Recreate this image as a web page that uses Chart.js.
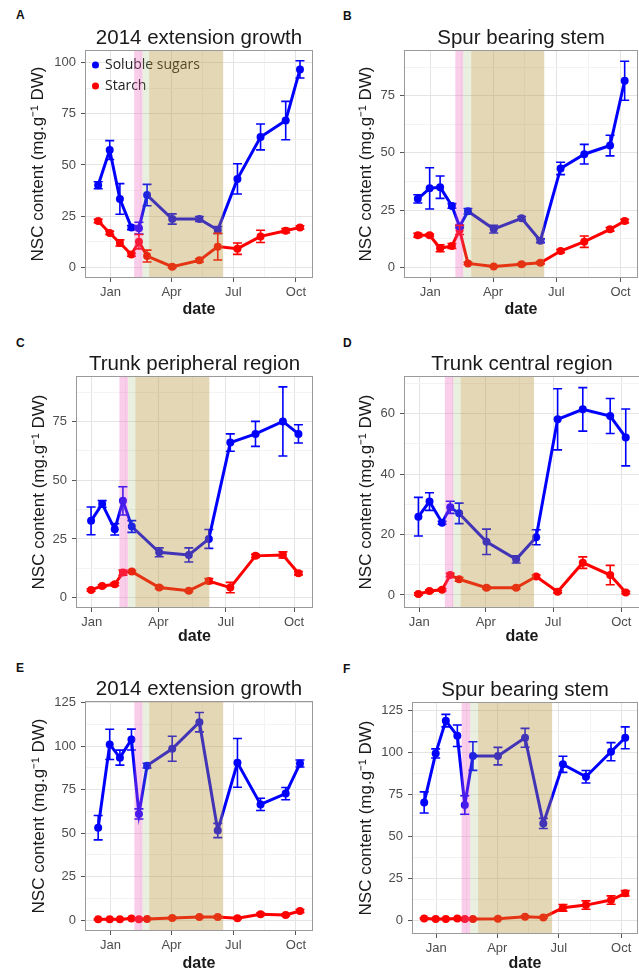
<!DOCTYPE html>
<html>
<head>
<meta charset="utf-8">
<script src="https://cdn.jsdelivr.net/npm/chart.js@4.4.1/dist/chart.umd.min.js"></script>
<style>
  html, body { margin: 0; padding: 0; background: #fff; }
  body { width: 639px; height: 971px; overflow: hidden; position: relative; }
  canvas { position: absolute; }
  .tag { position: absolute; font: bold 12px 'Liberation Sans', Arial, sans-serif; line-height: 12px; color: #111; }
</style>
</head>
<body>
<div class="tag" style="left:16px;top:9px">A</div>
<div class="tag" style="left:343px;top:10px">B</div>
<div class="tag" style="left:16px;top:337px">C</div>
<div class="tag" style="left:343px;top:337px">D</div>
<div class="tag" style="left:16px;top:662px">E</div>
<div class="tag" style="left:343px;top:663px">F</div>
<canvas id="cA"></canvas><canvas id="cB"></canvas>
<canvas id="cC"></canvas><canvas id="cD"></canvas>
<canvas id="cE"></canvas><canvas id="cF"></canvas>
<script>
// ---------- data (x = days since 1 Jan 2014) ----------
const dates = [-18, -1, 14, 31, 42, 54, 91, 131, 158, 187, 221, 258, 279];
const datesTrunk = [-1, 14, 31, 42, 54, 91, 131, 158, 187, 221, 258, 279];
const monthDays = [0, 90, 181, 273];
const monthNames = ['Jan', 'Apr', 'Jul', 'Oct'];

const sugarA    = [40.1, 57.3, 33.4, 19.4, 19.1, 35.3, 23.6, 23.6, 18.2, 43.2, 63.7, 71.7, 96.7];
const sugarErrA = [1.7, 4.6, 7.5, 1.0, 2.9, 5.2, 2.5, 1.2, 1.7, 7.4, 6.3, 9.4, 4.2];
const starchA    = [22.6, 16.8, 11.9, 6.2, 12.5, 5.5, 0.3, 3.4, 10.1, 9.1, 15.1, 17.9, 19.5];
const starchErrA = [0.8, 0.8, 1.5, 0.8, 3.5, 2.9, 0.5, 0.8, 6.5, 2.8, 3.0, 1.0, 0.8];

const sugarB    = [29.9, 34.5, 35.0, 26.8, 17.8, 24.5, 16.7, 21.4, 11.6, 43.2, 49.4, 53.2, 81.5];
const sugarErrB = [1.8, 9.0, 4.9, 1.0, 0.5, 1.2, 1.7, 0.8, 0.8, 2.7, 4.3, 4.5, 8.5];
const starchB    = [14.0, 14.0, 8.3, 9.3, 16.3, 1.7, 0.3, 1.3, 2.0, 7.1, 11.2, 16.6, 20.2];
const starchErrB = [0.8, 0.5, 1.5, 1.1, 2.0, 0.5, 0.3, 0.5, 0.5, 0.7, 2.5, 0.8, 0.8];

const sugarC    = [32.7, 39.9, 29.1, 41.2, 30.3, 19.3, 18.2, 25.0, 66.0, 69.7, 75.0, 69.7];
const sugarErrC = [5.9, 1.4, 2.4, 6.0, 2.5, 1.9, 3.0, 4.0, 3.7, 5.3, 14.7, 3.9];
const starchC    = [3.3, 5.0, 5.7, 10.7, 11.1, 4.3, 3.0, 7.1, 4.3, 17.8, 18.2, 10.4];
const starchErrC = [0.5, 0.5, 0.6, 1.1, 0.5, 0.5, 0.5, 1.0, 2.2, 0.7, 1.3, 0.7];

const sugarD    = [25.9, 30.9, 23.9, 29.0, 27.0, 17.6, 11.8, 19.1, 58.1, 61.4, 59.2, 52.1];
const sugarErrD = [6.4, 2.9, 0.5, 2.0, 3.4, 4.2, 1.2, 2.5, 10.1, 7.2, 5.8, 9.4];
const starchD    = [0.3, 1.3, 1.7, 6.6, 5.2, 2.4, 2.4, 6.1, 1.1, 10.7, 6.6, 0.8];
const starchErrD = [0.4, 0.4, 0.4, 0.6, 0.6, 0.4, 0.4, 0.5, 0.4, 1.9, 3.2, 0.4];

const sugarE    = [53.1, 101.0, 93.4, 103.8, 61.0, 88.8, 98.5, 113.8, 51.5, 90.4, 66.5, 72.7, 90.0];
const sugarErrE = [7.0, 8.7, 4.3, 6.0, 2.9, 1.4, 7.2, 5.6, 4.1, 14.0, 3.5, 3.5, 2.0];
const starchE    = [0.4, 0.4, 0.4, 0.8, 0.4, 0.6, 1.1, 1.7, 1.7, 1.0, 3.3, 2.9, 5.2];
const starchErrE = [0.3, 0.3, 0.3, 0.4, 0.3, 0.3, 0.4, 0.5, 0.5, 0.4, 0.7, 0.6, 0.8];

const sugarF    = [70.0, 99.2, 118.7, 109.7, 68.5, 97.6, 97.6, 108.5, 57.5, 92.7, 85.3, 100.2, 108.5];
const sugarErrF = [6.3, 2.7, 3.7, 6.4, 5.5, 8.5, 5.2, 5.6, 3.0, 4.8, 3.7, 5.4, 6.5];
const starchF    = [1.0, 0.6, 0.6, 1.0, 0.6, 0.6, 0.8, 2.0, 1.6, 7.3, 8.9, 11.9, 15.9];
const starchErrF = [0.4, 0.3, 0.3, 0.4, 0.3, 0.3, 0.3, 0.5, 0.5, 2.0, 2.5, 2.5, 1.6];

// shaded periods (day boundaries: pink start, pink end / green start, green end / tan start, tan end)
const shadeA = [35, 47.3, 57, 166];
const shadeB = [35.9, 47.2, 58.6, 163.5];
const shadeC = [37.3, 48.9, 58.7, 158.7];
const shadeD = [34.7, 46.2, 56, 155.1];
const shadeE = [35.3, 47.4, 57.1, 166];
const shadeF = [37.3, 50, 61.6, 171];

const yTicks100 = [0, 25, 50, 75, 100];
const yTicks75 = [0, 25, 50, 75];
const yTicks60 = [0, 20, 40, 60];
const yTicks125 = [0, 25, 50, 75, 100, 125];

const titles = ['2014 extension growth', 'Spur bearing stem', 'Trunk peripheral region',
                'Trunk central region', '2014 extension growth', 'Spur bearing stem'];
const seriesNames = ['Soluble sugars', 'Starch'];
const yLabel = 'NSC content (mg.g\u207B\u00B9 DW)';
const xLabel = 'date';

// ---------- styling / layout ----------
const FONT = "'Liberation Sans', Arial, Helvetica, sans-serif";
const BLUE = '#0000ff', RED = '#ff0000';
const SHADE_COLORS = ['rgba(238,88,188,0.30)', 'rgba(150,180,95,0.20)', 'rgba(181,144,52,0.36)'];
const W_LEFT = 60, H_TOP = 40, H_BOTTOM = 45;

function withMinor(major, min, max) {
  const n = major.length;
  const ext = [major[0] - (major[1] - major[0]), ...major, major[n - 1] + (major[n - 1] - major[n - 2])];
  const out = [];
  for (let i = 0; i < ext.length; i++) {
    out.push(ext[i]);
    if (i < ext.length - 1) out.push((ext[i] + ext[i + 1]) / 2);
  }
  return out.filter(v => v >= min && v <= max);
}

function makeScale(axis, major, labels, min, max, title, titleFont, titlePad, tickPad) {
  const list = withMinor(major, min, max);
  const isMajor = v => major.indexOf(v) >= 0;
  return {
    type: 'linear', min, max,
    afterBuildTicks: s => { s.ticks = list.map(v => ({ value: v })); },
    afterFit: s => { if (axis === 'x') s.height = H_BOTTOM; else s.width = W_LEFT; },
    ticks: {
      autoSkip: false, maxRotation: 0, minRotation: 0, padding: tickPad,
      color: '#4d4d4d', font: { family: FONT, size: 13 },
      callback: v => { const i = major.indexOf(v); return i >= 0 ? labels[i] : ''; }
    },
    grid: {
      color: c => (c.tick && isMajor(c.tick.value)) ? '#e4e4e4' : '#f3f3f3',
      tickColor: c => (c.tick && isMajor(c.tick.value)) ? '#555555' : 'rgba(0,0,0,0)',
      tickLength: 5, drawTicks: true, lineWidth: 1
    },
    border: { display: false },
    title: { display: true, text: title, color: '#1a1a1a', font: titleFont, padding: titlePad }
  };
}

const decor = {
  id: 'decor',
  beforeDraw(chart) {
    // keep an in-panel legend inside the plotting area
    const lg = chart.legend;
    if (lg && lg.options.display && lg.options.position === 'chartArea') {
      const a = chart.chartArea;
      lg.left = a.left; lg.top = a.top; lg.right = a.right; lg.bottom = a.bottom;
      lg.width = a.right - a.left; lg.height = a.bottom - a.top;
    }
  },
  afterDatasetsDraw(chart, args, opts) {
    const { ctx, chartArea: a, scales: { x, y } } = chart;
    ctx.save();
    chart.data.datasets.forEach(ds => {
      ctx.strokeStyle = ds.borderColor;
      ctx.lineWidth = 1.6;
      ds.data.forEach((p, i) => {
        const e = ds.err[i];
        const px = x.getPixelForValue(p.x);
        const y1 = y.getPixelForValue(p.y - e), y2 = y.getPixelForValue(p.y + e);
        ctx.beginPath();
        ctx.moveTo(px, y1); ctx.lineTo(px, y2);
        ctx.moveTo(px - 4.5, y1); ctx.lineTo(px + 4.5, y1);
        ctx.moveTo(px - 4.5, y2); ctx.lineTo(px + 4.5, y2);
        ctx.stroke();
      });
    });
    const s = opts.shade;
    for (let k = 0; k < 3; k++) {
      const x0 = x.getPixelForValue(s[k]), x1 = x.getPixelForValue(s[k + 1]);
      ctx.fillStyle = SHADE_COLORS[k];
      ctx.fillRect(x0, a.top, x1 - x0, a.bottom - a.top);
    }
    ctx.strokeStyle = '#9a9a9a';
    ctx.lineWidth = 1;
    ctx.strokeRect(Math.round(a.left) - 0.5, Math.round(a.top) - 0.5,
                   Math.round(a.right - a.left) + 1, Math.round(a.bottom - a.top) + 1);
    ctx.restore();
  }
};

function series(xs, vals, errs, name, color) {
  return {
    label: name,
    data: xs.map((d, i) => ({ x: d, y: vals[i] })),
    err: errs,
    borderColor: color, backgroundColor: color,
    pointBackgroundColor: color, pointBorderColor: color,
    pointBorderWidth: 0, pointRadius: 4, pointStyle: 'circle',
    borderWidth: 3, tension: 0, clip: false
  };
}

// box = [left, top, right, bottom] of the plot panel in page pixels
const panels = [
  { id: 'cA', box: [86, 51, 315, 277], xs: dates, s: sugarA, se: sugarErrA, t: starchA, te: starchErrA,
    shade: shadeA, xr: [-35.9, 296.7], yr: [-4.74, 105.7], yt: yTicks100, title: titles[0], yPad: 2.1, xPad: 2.4, legend: true },
  { id: 'cB', box: [405, 51, 640, 277], xs: dates, s: sugarB, se: sugarErrB, t: starchB, te: starchErrB,
    shade: shadeB, xr: [-36.4, 296.7], yr: [-4.24, 94.5], yt: yTicks75, title: titles[1], yPad: 11.1, xPad: 2.9 },
  { id: 'cC', box: [77, 377, 315, 607], xs: datesTrunk, s: sugarC, se: sugarErrC, t: starchC, te: starchErrC,
    shade: shadeC, xr: [-20, 297.3], yr: [-3.96, 93.9], yt: yTicks75, title: titles[2], yPad: 11.7, xPad: 5.9 },
  { id: 'cD', box: [405, 377, 642, 607], xs: datesTrunk, s: sugarD, se: sugarErrD, t: starchD, te: starchErrD,
    shade: shadeD, xr: [-19.1, 296.9], yr: [-3.97, 72.1], yt: yTicks60, title: titles[3], yPad: 11.1, xPad: 5.9 },
  { id: 'cE', box: [86, 702, 315, 930], xs: dates, s: sugarE, se: sugarErrE, t: starchE, te: starchErrE,
    shade: shadeE, xr: [-35.9, 296.7], yr: [-5.75, 125.4], yt: yTicks125, title: titles[4], yPad: 3.3, xPad: 1.9 },
  { id: 'cF', box: [413, 703, 640, 933], xs: dates, s: sugarF, se: sugarErrF, t: starchF, te: starchErrF,
    shade: shadeF, xr: [-34.5, 296.4], yr: [-7.7, 129.2], yt: yTicks125, title: titles[5], yPad: 3.4, xPad: 4.4 }
];

panels.forEach(p => {
  const [bl, bt, br, bb] = p.box;
  const cv = document.getElementById(p.id);
  const w = (br - bl) + W_LEFT + 1, h = (bb - bt) + H_TOP + H_BOTTOM;
  cv.width = w; cv.height = h;
  cv.style.left = (bl - W_LEFT) + 'px';
  cv.style.top = (bt - H_TOP) + 'px';
  cv.style.width = w + 'px'; cv.style.height = h + 'px';
  new Chart(cv, {
    type: 'line',
    data: {
      datasets: [
        series(p.xs, p.s, p.se, seriesNames[0], BLUE),
        series(p.xs, p.t, p.te, seriesNames[1], RED)
      ]
    },
    options: {
      responsive: false, animation: false, devicePixelRatio: 1,
      layout: { padding: { left: 0, top: 0, right: 1, bottom: 0 } },
      scales: {
        x: makeScale('x', monthDays, monthNames, p.xr[0], p.xr[1], xLabel,
                     { family: FONT, size: 16, weight: 'bold', lineHeight: 1.2 },
                     { top: 0, bottom: p.xPad }, 2.5),
        y: makeScale('y', p.yt, p.yt.map(String), p.yr[0], p.yr[1], yLabel,
                     { family: FONT, size: 17, lineHeight: 1.2 },
                     { top: p.yPad, bottom: 0 }, 5)
      },
      plugins: {
        title: {
          display: true, text: p.title, fullSize: false, color: '#1a1a1a',
          font: { family: FONT, size: 20.5, weight: 'normal', lineHeight: 1.2 },
          padding: { top: 15.4, bottom: 0 }
        },
        legend: {
          display: !!p.legend, position: 'chartArea', align: 'start',
          labels: {
            usePointStyle: true, pointStyle: 'circle', boxWidth: 5, boxHeight: 5, padding: 7,
            color: '#222', font: { family: "'Open Sans', 'Noto Sans', sans-serif", size: 14 }
          }
        },
        tooltip: { enabled: false },
        decor: { shade: p.shade }
      }
    },
    plugins: [decor]
  });
});
</script>
</body>
</html>
